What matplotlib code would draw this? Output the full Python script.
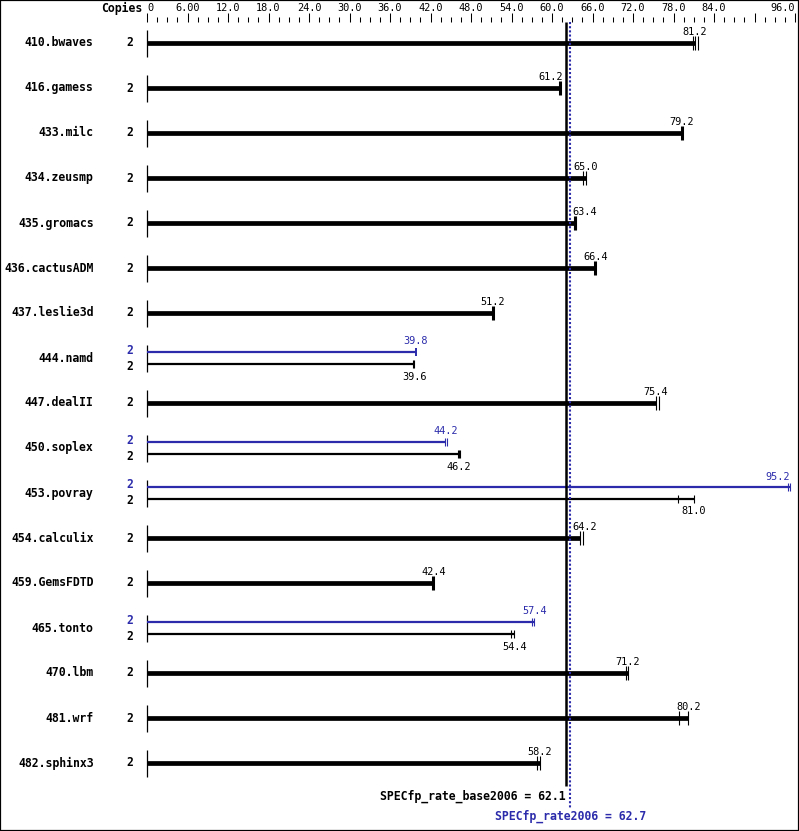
import numpy as np
import matplotlib
matplotlib.use('Agg')
import matplotlib.pyplot as plt
from matplotlib.patches import Rectangle
from matplotlib.ticker import MultipleLocator

# Benchmarks, copies and ratios (base = black, peak = blue)
benchmarks = ['410.bwaves', '416.gamess', '433.milc', '434.zeusmp', '435.gromacs',
              '436.cactusADM', '437.leslie3d', '444.namd', '447.dealII', '450.soplex',
              '453.povray', '454.calculix', '459.GemsFDTD', '465.tonto', '470.lbm',
              '481.wrf', '482.sphinx3']
copies = [2] * 17
base = [81.2, 61.2, 79.2, 65.0, 63.4, 66.4, 51.2, 39.6, 75.4, 46.2,
        81.0, 64.2, 42.4, 54.4, 71.2, 80.2, 58.2]
base_min = [80.9, 61.2, 79.2, 64.6, 63.2, 66.4, 51.2, 39.4, 75.4, 46.0,
            78.6, 64.2, 42.4, 53.9, 71.0, 78.8, 57.8]
base_max = [81.6, 61.2, 79.2, 65.0, 63.6, 66.4, 51.2, 39.6, 75.8, 46.3,
            81.0, 64.6, 42.4, 54.4, 71.2, 80.2, 58.2]
# peak only where it differs from base
peak = {'444.namd': 39.8, '450.soplex': 44.2, '453.povray': 95.2, '465.tonto': 57.4}
peak_min = {'444.namd': 39.8, '450.soplex': 44.2, '453.povray': 95.0, '465.tonto': 57.0}
peak_max = {'444.namd': 39.8, '450.soplex': 44.4, '453.povray': 95.2, '465.tonto': 57.4}

base_mean = 62.1
peak_mean = 62.7

tick_values = [0, 6, 12, 18, 24, 30, 36, 42, 48, 54, 60, 66, 72, 78, 84, 90, 96]
tick_labels = ['0', '6.00', '12.0', '18.0', '24.0', '30.0', '36.0', '42.0', '48.0',
               '54.0', '60.0', '66.0', '72.0', '78.0', '84.0', '', '96.0']

BLUE = '#2b2bab'
W, H = 799, 831
X0 = 147          # pixel of value 0
SCALE = 6.75      # pixels per unit
MONO = 'DejaVu Sans Mono'

fig = plt.figure(figsize=(W / 100, H / 100), dpi=100)
ax = fig.add_axes([0, 0, 1, 1])
ax.set_xlim(-X0 / SCALE, (W - X0) / SCALE)
ax.set_ylim(H, 0)
ax.axis('off')
ax.add_patch(Rectangle((0, 0), 1, 1, transform=fig.transFigure, fill=False,
                       edgecolor='black', lw=1.6, clip_on=False))

# top scale
sax = fig.add_axes([X0 / W, (H - 22) / H, 648 / W, 9 / H])
sax.set_xlim(0, 96)
sax.set_ylim(0, 1)
for s in sax.spines.values():
    s.set_visible(False)
sax.patch.set_alpha(0)
sax.set_yticks([])
sax.set_xticks(tick_values)
sax.set_xticklabels(tick_labels, fontfamily=MONO, fontsize=7.4)
sax.xaxis.set_minor_locator(MultipleLocator(1.5))
sax.tick_params(which='both', bottom=True, top=False, labelbottom=False, labeltop=True,
                direction='in', width=0.75, pad=0.2)
sax.tick_params(which='major', length=6.5)
sax.tick_params(which='minor', length=3.6)
labs = sax.get_xticklabels()
labs[0].set_ha('left')
labs[-1].set_ha('right')
ax.text(-0.7, 8, 'Copies', ha='right', va='center', fontfamily=MONO,
        fontsize=8.3, fontweight='bold')

half_lab = 1.9  # half width of a value label, in units


def value_label(v, y, color):
    kw = dict(va='center', fontfamily=MONO, fontsize=7.4, color=color)
    lo, hi = v - half_lab, v + half_lab
    if v > 90:
        ax.text(v, y, f'{v:.1f}', ha='right', **kw)
    elif lo < peak_mean + 0.4 and hi > base_mean - 0.4:
        # label would hit the summary lines: move it aside
        if v < base_mean:
            ax.text(base_mean - 0.5, y, f'{v:.1f}', ha='right', **kw)
        else:
            ax.text(peak_mean + 0.3, y, f'{v:.1f}', ha='left', **kw)
    else:
        ax.text(v, y, f'{v:.1f}', ha='center', **kw)


def run_ticks(med, lo, hi, y, h, color, thick):
    if lo == hi == med:
        ax.vlines(med, y - h, y + h, color=color, lw=2.2 if thick else 1.4)
    else:
        ax.vlines(sorted({lo, med, hi}), y - h, y + h, color=color, lw=0.8)


for i, name in enumerate(benchmarks):
    yc = 43 + 45 * i
    ax.text(-7.9, yc, name, ha='right', va='center', fontfamily=MONO,
            fontsize=8.3, fontweight='bold')
    ax.vlines(0, yc - 13.5, yc + 14, color='black', lw=0.9)
    if name in peak:
        yp, yb = yc - 6, yc + 6
        ax.text(-2.5, yp - 2, str(copies[i]), ha='center', va='center', fontfamily=MONO,
                fontsize=8.3, fontweight='bold', color=BLUE)
        ax.text(-2.5, yb + 2, str(copies[i]), ha='center', va='center', fontfamily=MONO,
                fontsize=8.3, fontweight='bold')
        ax.hlines(yp, 0, peak[name], color=BLUE, lw=1.6)
        run_ticks(peak[name], peak_min[name], peak_max[name], yp, 4, BLUE, False)
        value_label(peak[name], yp - 10.5, BLUE)
        ax.hlines(yb, 0, base[i], color='black', lw=1.6)
        run_ticks(base[i], base_min[i], base_max[i], yb, 4, 'black', False)
        value_label(base[i], yb + 12.5, 'black')
    else:
        ax.text(-2.5, yc, str(copies[i]), ha='center', va='center', fontfamily=MONO,
                fontsize=8.3, fontweight='bold')
        ax.hlines(yc, 0, base[i], color='black', lw=3.4)
        run_ticks(base[i], base_min[i], base_max[i], yc, 7, 'black', True)
        value_label(base[i], yc - 11, 'black')

# summary lines
ax.vlines(base_mean, 22, 786, color='black', lw=1.8)
ax.vlines(peak_mean, 22, 808, color=BLUE, lw=1.5, linestyles=(0, (1, 1)))
ax.text(base_mean - 0.1, 796, f'SPECfp_rate_base2006 = {base_mean}', ha='right',
        va='center', fontfamily=MONO, fontsize=8.3, fontweight='bold')
ax.text(peak_mean, 816, f'SPECfp_rate2006 = {peak_mean}', ha='center', va='center',
        fontfamily=MONO, fontsize=8.3, fontweight='bold', color=BLUE)

fig.savefig('out.png', dpi=100)
